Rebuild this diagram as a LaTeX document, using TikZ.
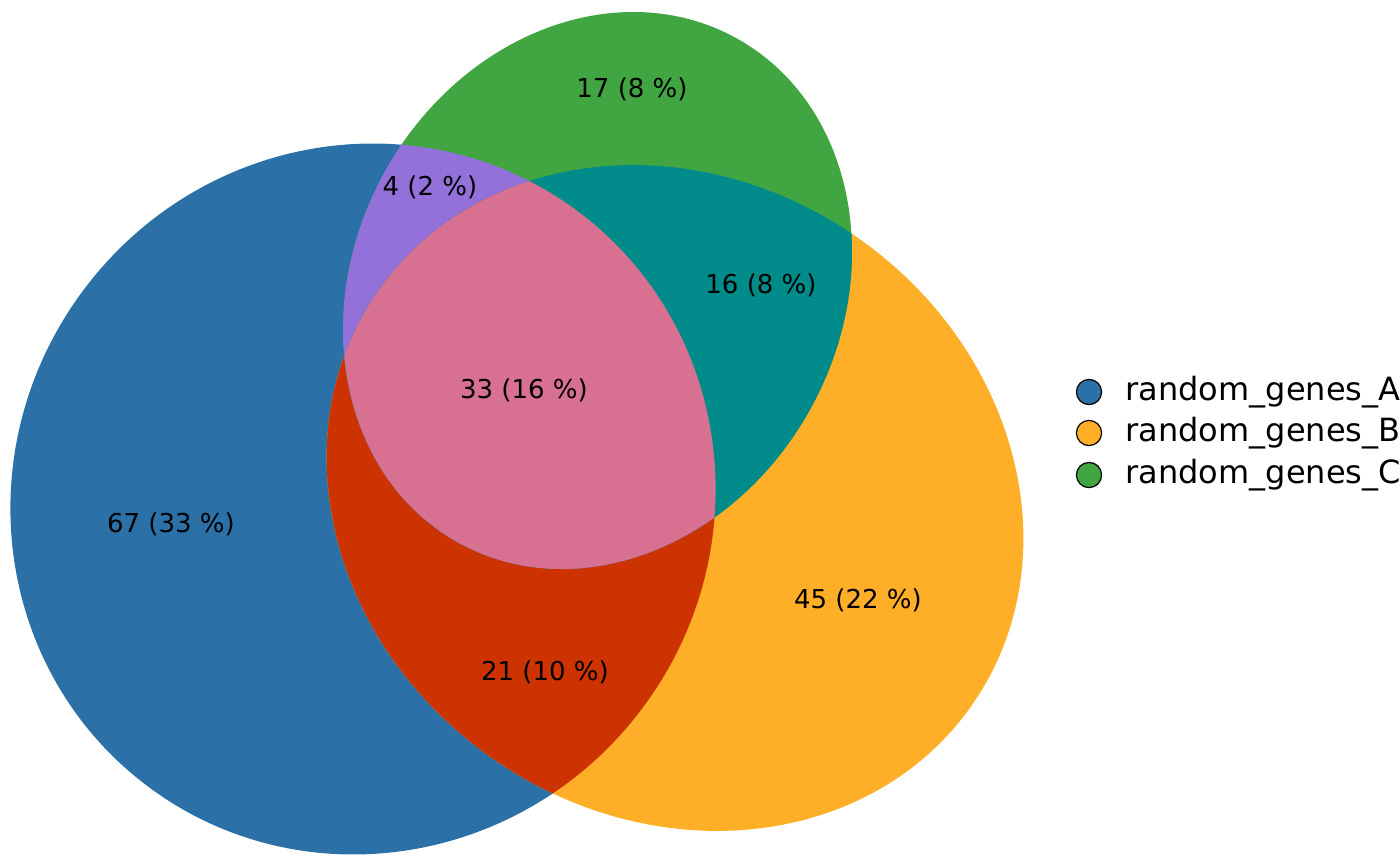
\documentclass[tikz,border=0pt]{standalone}
\usepackage{fontspec}
\setmainfont{DejaVu Sans}
\usepackage{tikz}
\usetikzlibrary{positioning}
\definecolor{setA}{RGB}{44,112,168}
\definecolor{setB}{RGB}{255,174,39}
\definecolor{setC}{RGB}{65,166,65}
\definecolor{setAB}{RGB}{204,51,0}
\definecolor{setAC}{RGB}{148,112,219}
\definecolor{setBC}{RGB}{0,139,139}
\definecolor{setABC}{RGB}{216,112,145}
% the three sets (screen pixels, y downwards)
\newcommand{\vennA}{[rotate around={53.3:(363,499)}] (363,499) ellipse [x radius=179.5pt, y radius=174.5pt]}
\newcommand{\vennB}{[rotate around={-34.7:(675,498)}] (675,498) ellipse [x radius=181pt, y radius=159pt]}
\newcommand{\vennC}{[rotate around={61.4:(597.5,290.5)}] (597.5,290.5) ellipse [x radius=144pt, y radius=121.8pt]}

\begin{document}
\begin{tikzpicture}[x=0.5pt, y=-0.5pt,
    cnt/.style={font=\fontsize{13}{15}\selectfont, inner sep=0pt},
    key/.style={circle, draw=black, line width=0.6pt, minimum size=12.6pt, inner sep=0pt},
    keytext/.style={font=\fontsize{16}{19}\selectfont, inner sep=0pt}]
    \useasboundingbox (0,0) rectangle (1400,866);
    % single sets
    \fill[setA] \vennA;
    \fill[setB] \vennB;
    \fill[setC] \vennC;
    % pairwise overlaps
    \begin{scope}
        \clip \vennA;
        \fill[setAB] \vennB;
        \fill[setAC] \vennC;
    \end{scope}
    \begin{scope}
        \clip \vennB;
        \fill[setBC] \vennC;
    \end{scope}
    % triple overlap
    \begin{scope}
        \clip \vennA;
        \clip \vennB;
        \fill[setABC] \vennC;
    \end{scope}
    % counts
    \node[cnt] (nA) at (171,524) {67 (33 \%)};
    \node[cnt] (nB) at (858,600) {45 (22 \%)};
    \node[cnt] (nC) at (632,89) {17 (8 \%)};
    \node[cnt] (nAB) at (545,672) {21 (10 \%)};
    \node[cnt] (nAC) at (430,187) {4 (2 \%)};
    \node[cnt] (nBC) at (761,285) {16 (8 \%)};
    \node[cnt] (nABC) at (524,390) {33 (16 \%)};
    % legend
    \node[key, fill=setA] (keyA) at (1089,392) {};
    \node[key, fill=setB] (keyB) at (1089,433) {};
    \node[key, fill=setC] (keyC) at (1089,475) {};
    \node[keytext, right=11.5pt of keyA] (txtA) {random\_genes\_A};
    \node[keytext, right=11.5pt of keyB] (txtB) {random\_genes\_B};
    \node[keytext, right=11.5pt of keyC] (txtC) {random\_genes\_C};
\end{tikzpicture}
\end{document}
